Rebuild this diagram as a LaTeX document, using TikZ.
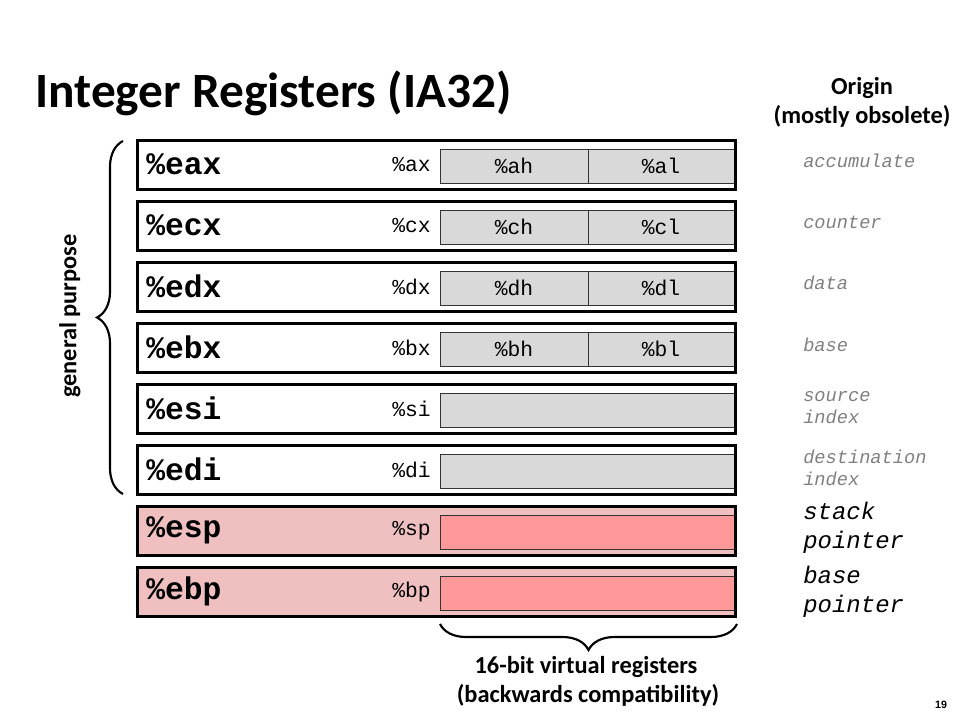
\documentclass[tikz,border=0pt]{standalone}
\usepackage{fontspec}
\setmainfont{Carlito}
\newfontfamily\monof{Liberation Mono}
\newfontfamily\arialf{Liberation Sans}
\usetikzlibrary{decorations.pathreplacing}
\definecolor{cellgray}{HTML}{D9D9D9}
\definecolor{pinkout}{HTML}{F0C0C0}
\definecolor{pinkin}{HTML}{FF9999}
\definecolor{origgray}{HTML}{808080}
\begin{document}
\begin{tikzpicture}[x=0.75pt,y=-0.75pt,
  outerbox/.style={draw=none, minimum width=448.5pt, minimum height=36pt, inner sep=0pt},
  outerline/.style={draw=black, line width=2.4pt},
  cellbox/.style={draw=black!80, line width=0.6pt, minimum height=25.5pt, inner sep=0pt,
    font=\monof\fontsize{16}{16}\selectfont},
  biglab/.style={anchor=west, inner sep=0pt, font=\monof\bfseries\fontsize{23.5}{23.5}\selectfont},
  smalllab/.style={anchor=east, inner sep=0pt, font=\monof\fontsize{16}{16}\selectfont},
  origlab/.style={anchor=west, inner sep=0pt, align=left, text=origgray,
    font=\monof\itshape\fontsize{14}{16.5}\selectfont},
  origbig/.style={anchor=west, inner sep=0pt, align=left, text=black,
    font=\monof\itshape\fontsize{18}{21.75}\selectfont},
  bracestyle/.style={draw=black, line width=1.6pt, decorate,
    decoration={brace, amplitude=19.5pt}},
  headlab/.style={inner sep=0pt, font=\bfseries\fontsize{18.3}{22}\selectfont}
]
\useasboundingbox (0,0) rectangle (960,720);
\fill[white] (0,0) rectangle (960,720);

% title
\node[anchor=base west, inner sep=0pt, font=\bfseries\fontsize{37}{37}\selectfont] (title) at (35,108) {Integer Registers (IA32)};

% outer boxes
\foreach \nm/\i in {eax/0,ecx/1,edx/2,ebx/3,esi/4,edi/5}{
  \node[outerbox, fill=white] (\nm) at (436.5,{165+61*\i}) {};
}
\foreach \nm/\i in {esp/6,ebp/7}{
  \node[outerbox, fill=pinkout] (\nm) at (436.5,{165+61*\i}) {};
}

% split cells
\foreach \nm/\h/\l/\i in {eax/ah/al/0,ecx/ch/cl/1,edx/dh/dl/2,ebx/bh/bl/3}{
  \node[cellbox, fill=cellgray, minimum width=111pt] (\nm h) at (514,{166+61*\i}) {\%\h};
  \node[cellbox, fill=cellgray, minimum width=109.5pt] (\nm l) at (661,{166+61*\i}) {\%\l};
}
% full cells
\foreach \nm/\i in {esi/4,edi/5}{
  \node[cellbox, fill=cellgray, minimum width=220.5pt] (\nm c) at (587,{166+61*\i}) {};
}
\foreach \nm/\i in {esp/6,ebp/7}{
  \node[cellbox, fill=pinkin, minimum width=220.5pt] (\nm c) at (587,{166+61*\i}) {};
}

% labels
\foreach \nm/\s/\i in {eax/ax/0,ecx/cx/1,edx/dx/2,ebx/bx/3,esi/si/4,edi/di/5,esp/sp/6,ebp/bp/7}{
  \node[biglab] (\nm lab) at (146,{164+61*\i}) {\%\nm};
  \node[smalllab] (\nm sub) at (431,{165+61*\i}) {\%\s};
  \draw[outerline] (\nm.south west) rectangle (\nm.north east);
}

% general purpose brace
\coordinate (gpbot) at (123,494);
\coordinate (gptop) at (123,141);
\draw[bracestyle] (gpbot) -- (gptop);
\node[headlab, rotate=90] (gplab) at (70,316) {general purpose};

% 16-bit brace
\coordinate (vl) at (440,624);
\coordinate (vr) at (737,624);
\draw[bracestyle, decoration={brace, mirror, amplitude=19.5pt}] (vl) -- (vr);
\node[headlab, anchor=base] (vlab1) at (586,673) {16-bit virtual registers};
\node[headlab, anchor=base] (vlab2) at (588,702) {(backwards compatibility)};

% origin column
\node[headlab, anchor=base] (orig1) at (862,95) {Origin};
\node[headlab, anchor=base] (orig2) at (862,124) {(mostly obsolete)};
\node[origlab] (o1) at (803,161) {accumulate};
\node[origlab] (o2) at (803,222) {counter};
\node[origlab] (o3) at (803,283) {data};
\node[origlab] (o4) at (803,345) {base};
\node[origlab] (o5) at (803,408) {source\\index};
\node[origlab] (o6) at (803,468) {destination\\index};
\node[origbig] (o7) at (803,528) {stack\\pointer};
\node[origbig] (o8) at (803,592) {base\\pointer};

% page number
\node[inner sep=0pt, font=\arialf\bfseries\fontsize{8}{8}\selectfont] (pg) at (941,705) {19};
\end{tikzpicture}
\end{document}
